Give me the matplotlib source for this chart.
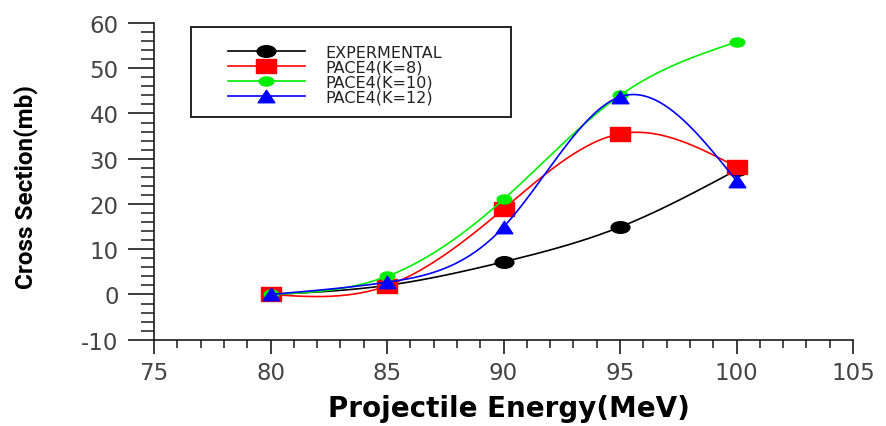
import numpy as np
import matplotlib
matplotlib.use("agg")
from matplotlib import pyplot as plt
from matplotlib.path import Path
from matplotlib.transforms import Affine2D
from matplotlib.patches import Rectangle
from matplotlib.ticker import MultipleLocator

plt.rcParams["axes.unicode_minus"] = False

energy = [80, 85, 90, 95, 100]
experimental = [0.0, 2.0, 7.2, 14.9, 27.5]
pace4_k8 = [0.0, 1.9, 18.9, 35.5, 28.2]
pace4_k10 = [0.0, 4.0, 21.0, 44.0, 55.8]
pace4_k12 = [0.0, 2.7, 14.9, 43.7, 25.1]

labels = ["EXPERMENTAL", "PACE4(K=8)", "PACE4(K=10)", "PACE4(K=12)"]
colors = ["black", "#ff0000", "#00ee00", "#0000ff"]


def natural_spline(x, y, n=300):
    # natural cubic spline through the points
    x = np.asarray(x, float)
    y = np.asarray(y, float)
    k = len(x)
    h = np.diff(x)
    A = np.zeros((k, k))
    b = np.zeros(k)
    A[0, 0] = A[-1, -1] = 1.0
    for i in range(1, k - 1):
        A[i, i - 1] = h[i - 1]
        A[i, i] = 2 * (h[i - 1] + h[i])
        A[i, i + 1] = h[i]
        b[i] = 6 * ((y[i + 1] - y[i]) / h[i] - (y[i] - y[i - 1]) / h[i - 1])
    M = np.linalg.solve(A, b)
    xs = np.linspace(x[0], x[-1], n)
    idx = np.clip(np.searchsorted(x, xs) - 1, 0, k - 2)
    x0, x1 = x[idx], x[idx + 1]
    hh = x1 - x0
    a = (x1 - xs) / hh
    c = (xs - x0) / hh
    ys = (a * y[idx] + c * y[idx + 1]
          + ((a ** 3 - a) * M[idx] + (c ** 3 - c) * M[idx + 1]) * hh ** 2 / 6)
    return xs, ys


# wide markers
ellipse = Affine2D().scale(1.0, 0.62).transform_path(Path.unit_circle())
box = Path([(-1, -0.65), (1, -0.65), (1, 0.65), (-1, 0.65), (-1, -0.65)],
           [Path.MOVETO, Path.LINETO, Path.LINETO, Path.LINETO, Path.CLOSEPOLY])
tri = Path([(-1, -0.75), (1, -0.75), (0, 0.75), (-1, -0.75)],
           [Path.MOVETO, Path.LINETO, Path.LINETO, Path.CLOSEPOLY])
markers = [ellipse, box, ellipse, tri]
msizes = [13.5, 14.5, 10.5, 12.0]

fig = plt.figure(figsize=(8.86, 4.27), dpi=100)
ax = fig.add_axes([154 / 886, 1 - 340.7 / 427, 699 / 886, 316.7 / 427])

series = [experimental, pace4_k8, pace4_k10, pace4_k12]
for vals, lab, col, mk, ms in zip(series, labels, colors, markers, msizes):
    xs, ys = natural_spline(energy, vals)
    ax.plot(xs, ys, color=col, lw=1.2)
    ax.plot(energy, vals, ls="none", marker=mk, ms=ms, color=col, mec=col)
    # legend proxy
    ax.plot([], [], color=col, lw=1.2, marker=mk, ms=ms, mec=col, label=lab)

ax.set_xlim(75, 105)
ax.set_ylim(-10, 60)
ax.xaxis.set_major_locator(MultipleLocator(5))
ax.xaxis.set_minor_locator(MultipleLocator(1))
ax.yaxis.set_major_locator(MultipleLocator(10))
ax.yaxis.set_minor_locator(MultipleLocator(2))

for s in ["top", "right"]:
    ax.spines[s].set_visible(False)
for s in ["left", "bottom"]:
    ax.spines[s].set_linewidth(1.2)
    ax.spines[s].set_color("#1a1a1a")

ax.tick_params(axis="y", which="major", direction="out", length=18.5, width=1.2,
               pad=7, labelsize=16.5, labelcolor="#444444", color="#1a1a1a")
ax.tick_params(axis="y", which="minor", direction="out", length=9.5, width=1.1,
               color="#1a1a1a")
ax.tick_params(axis="x", which="major", direction="out", length=10, width=1.2,
               pad=5, labelsize=16.5, labelcolor="#444444", color="#1a1a1a")
ax.tick_params(axis="x", which="minor", direction="out", length=5.5, width=1.1,
               color="#1a1a1a")

ax.set_xlabel("Projectile Energy(MeV)", fontsize=20, fontweight="bold",
              family="DejaVu Sans")
ax.xaxis.set_label_coords(0.508, -0.172)
ax.set_ylabel("Cross Section(mb)", fontsize=17.5, fontweight="bold",
              family=["Roboto", "DejaVu Sans"])
ax.yaxis.set_label_coords(-0.166, 0.485)

leg = ax.legend(loc="upper left", bbox_to_anchor=(220 / 886, 1 - 38 / 427),
                bbox_transform=fig.transFigure, frameon=False, borderpad=0,
                fontsize=11.5, handlelength=4.8, handletextpad=1.3,
                labelspacing=0.0, numpoints=1)
for t in leg.get_texts():
    t.set_color("#222222")

# legend box
fig.patches.append(Rectangle((191 / 886, 1 - 118 / 427), 320 / 886, 90 / 427,
                             transform=fig.transFigure, fill=False,
                             edgecolor="#222222", lw=1.4, zorder=5))

fig.savefig("out.png", dpi=100)
